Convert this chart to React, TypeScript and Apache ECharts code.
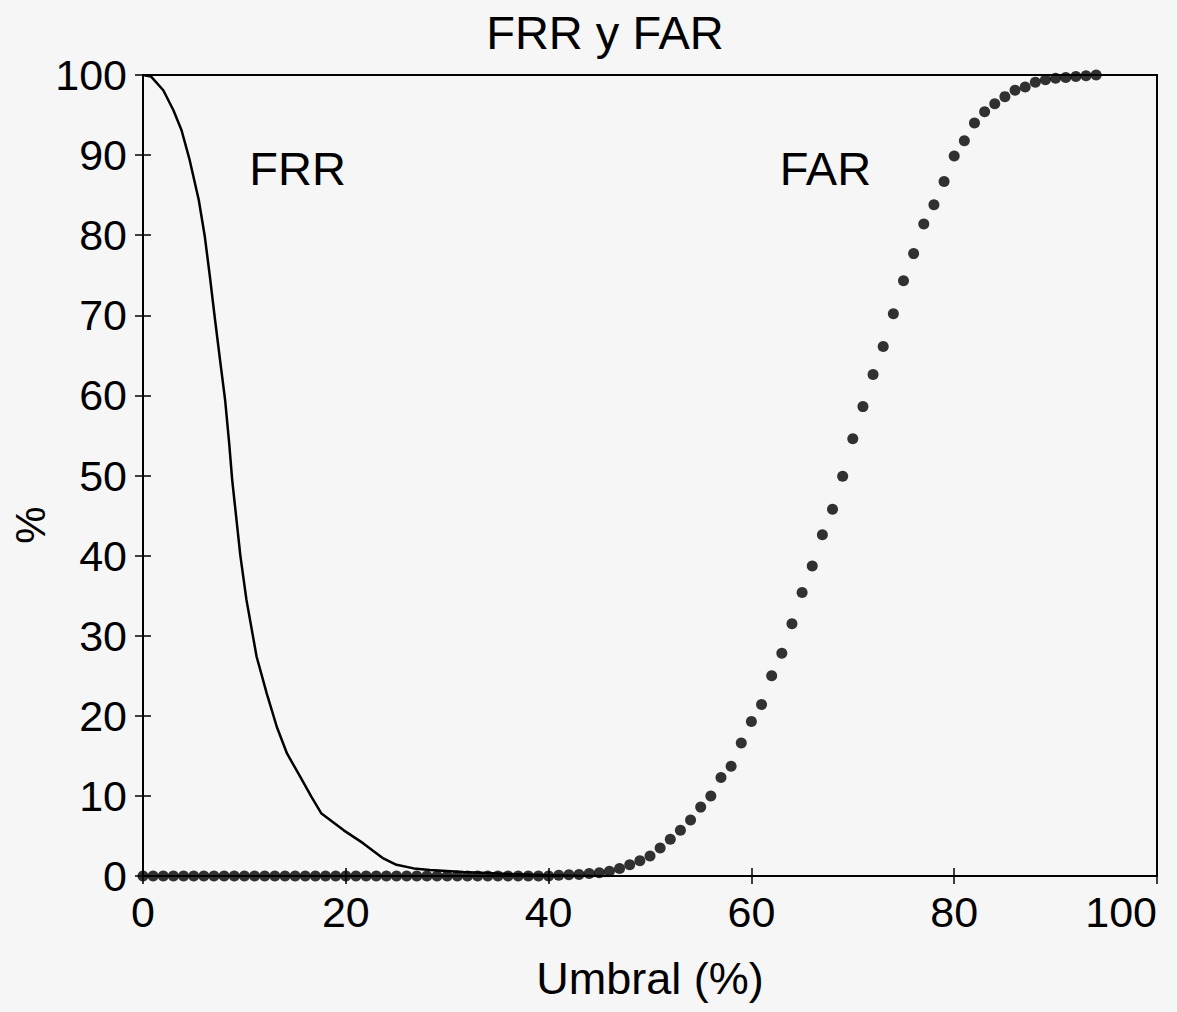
import React, { useEffect, useRef } from "react";
import * as echarts from "echarts";

// FRR curve (threshold %, rate %)
const frrX = [0, 0.8, 2, 3, 3.8, 4.6, 5.5, 6.1, 6.6, 7.1, 7.6, 8.1, 8.5, 8.8, 9.6, 10.2, 11.2, 12.2, 13.2, 14.2, 15.5, 16.6, 17.6, 19.8, 21.7, 23.7, 25, 26.7, 28.3, 31.6, 35, 40, 43, 46];
const frrY = [100, 99.8, 98.1, 95.6, 93.1, 89.4, 84.4, 79.8, 74.8, 69.5, 64.4, 59.4, 54, 49.4, 40, 34.5, 27.4, 22.8, 18.6, 15.3, 12.4, 9.9, 7.8, 5.7, 4.1, 2.2, 1.4, 0.95, 0.75, 0.5, 0.3, 0.1, 0, 0];

// FAR points at integer thresholds 0..94
const farY = [
  0, 0, 0, 0, 0, 0, 0, 0, 0, 0,
  0, 0, 0, 0, 0, 0, 0, 0, 0, 0,
  0, 0, 0, 0, 0, 0, 0, 0, 0, 0,
  0, 0, 0, 0, 0, 0, 0, 0, 0, 0,
  0, 0.1, 0.15, 0.2, 0.3, 0.4, 0.6, 0.95, 1.4, 1.9,
  2.5, 3.5, 4.6, 5.7, 7.0, 8.6, 10.0, 12.3, 13.7, 16.6,
  19.3, 21.4, 25.0, 27.8, 31.5, 35.4, 38.7, 42.6, 45.8, 49.9,
  54.6, 58.6, 62.6, 66.1, 70.2, 74.3, 77.7, 81.4, 83.8, 86.7,
  89.9, 91.8, 94.0, 95.4, 96.4, 97.3, 98.1, 98.5, 99.1, 99.4,
  99.6, 99.7, 99.8, 99.9, 100,
];

const xTicks = [0, 20, 40, 60, 80, 100];
const yTicks = [0, 10, 20, 30, 40, 50, 60, 70, 80, 90, 100];

const titleText = "FRR y FAR";
const xName = "Umbral (%)";
const yName = "%";
const curveLabels = ["FRR", "FAR"];
const curveLabelX = [15.25, 67.3];
const curveLabelY = [88.3, 88.3];

const FONT = "'Liberation Sans', Arial, Helvetica, sans-serif";

export default function App() {
  const ref = useRef<HTMLDivElement>(null);
  useEffect(() => {
    if (!ref.current) return;
    const chart = echarts.init(ref.current, null, { renderer: "svg" });
    const frrData = frrX.map((x, i) => [x, frrY[i]]);
    const farData = farY.map((y, i) => [i, y]);
    const labelData = curveLabels.map((n, i) => ({ name: n, value: [curveLabelX[i], curveLabelY[i]] }));
    const axisLabelStyle = { color: "#000", fontFamily: FONT, fontSize: 43 };
    chart.setOption({
      animation: false,
      backgroundColor: "#f6f6f6",
      title: {
        text: titleText,
        left: 600,
        top: 4,
        textAlign: "center",
        textStyle: { color: "#000", fontFamily: FONT, fontSize: 47, fontWeight: "normal" },
      },
      grid: {
        left: 143, right: 20, top: 75, bottom: 136,
        outerBoundsMode: "none", containLabel: false,
        show: true, borderColor: "#000", borderWidth: 2, backgroundColor: "transparent",
      },
      xAxis: [
        {
          type: "value", min: 0, max: 100, interval: 20, position: "bottom",
          name: xName, nameLocation: "middle", nameGap: 80,
          nameTextStyle: { color: "#000", fontFamily: FONT, fontSize: 45 },
          axisLine: { show: true, lineStyle: { color: "#000", width: 2 } },
          axisTick: { show: true, inside: true, length: 8, lineStyle: { color: "#000", width: 1.5 } },
          axisLabel: {
            ...axisLabelStyle, margin: 14, alignMaxLabel: "right",
            formatter: (v: number) => (xTicks.includes(v) ? String(v) : ""),
          },
          splitLine: { show: false },
        },
        {
          type: "value", min: 0, max: 100, interval: 20, position: "top",
          axisLine: { show: true, lineStyle: { color: "#000", width: 2 } },
          axisTick: { show: true, inside: true, length: 8, lineStyle: { color: "#000", width: 1.5 } },
          axisLabel: { show: false },
          splitLine: { show: false },
        },
      ],
      yAxis: [
        {
          type: "value", min: 0, max: 100, interval: 10, position: "left",
          axisLine: { show: true, lineStyle: { color: "#000", width: 2 } },
          axisTick: { show: true, inside: true, length: 8, lineStyle: { color: "#000", width: 1.5 } },
          axisLabel: { ...axisLabelStyle, margin: 16, formatter: (v: number) => (yTicks.includes(v) ? String(v) : "") },
          splitLine: { show: false },
        },
        {
          type: "value", min: 0, max: 100, interval: 10, position: "right",
          axisLine: { show: true, lineStyle: { color: "#000", width: 2 } },
          axisTick: { show: true, inside: true, length: 8, lineStyle: { color: "#000", width: 1.5 } },
          axisLabel: { show: false },
          splitLine: { show: false },
        },
      ],
      graphic: [
        {
          type: "text",
          x: 30,
          y: 525,
          rotation: Math.PI / 2,
          style: { text: yName, fill: "#000", font: `42px ${FONT}`, align: "center", verticalAlign: "middle" },
        },
      ],
      series: [
        {
          name: "FRR",
          type: "line",
          data: frrData,
          showSymbol: false,
          symbol: "none",
          lineStyle: { color: "#000", width: 2.5 },
          z: 3,
        },
        {
          name: "FAR",
          type: "scatter",
          data: farData,
          symbol: "circle",
          symbolSize: 11,
          itemStyle: { color: "#000" },
          z: 4,
        },
        {
          name: "labels",
          type: "scatter",
          data: labelData,
          symbolSize: 0,
          itemStyle: { opacity: 1 },
          label: {
            show: true,
            position: "inside",
            formatter: (p: any) => p.name,
            color: "#000",
            fontFamily: FONT,
            fontSize: 47,
          },
          z: 5,
        },
      ],
    });
    return () => chart.dispose();
  }, []);
  return <div ref={ref} style={{ position: "fixed", left: 0, top: 0, width: 1177, height: 1012 }} />;
}
